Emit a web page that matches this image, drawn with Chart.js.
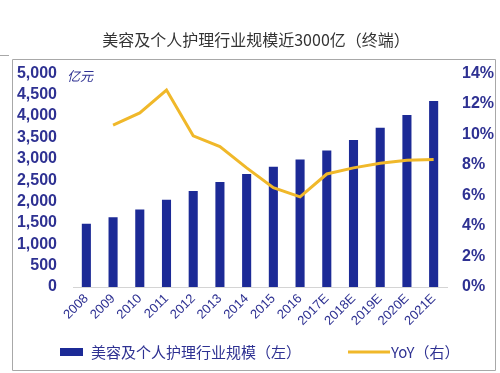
<!DOCTYPE html>
<html lang="zh">
<head>
<meta charset="UTF-8">
<title>美容及个人护理行业规模</title>
<script src="https://cdn.jsdelivr.net/npm/chart.js"></script>
<style>
  html, body { margin: 0; padding: 0; background: #fff; }
  #wrap { width: 500px; height: 373px; }
</style>
</head>
<body>
<div id="wrap"><canvas id="chart"></canvas></div>
<script>
  // données
  const years = ['2008', '2009', '2010', '2011', '2012', '2013', '2014', '2015', '2016',
                 '2017E', '2018E', '2019E', '2020E', '2021E'];
  const marketSize = [1480, 1630, 1810, 2040, 2245, 2455, 2645, 2810, 2980, 3195, 3440, 3725, 4020, 4350];
  const yoy = [null, 10.6, 11.4, 12.9, 9.9, 9.2, 7.8, 6.5, 5.9, 7.4, 7.8, 8.1, 8.3, 8.35];
  const leftTicks = [0, 500, 1000, 1500, 2000, 2500, 3000, 3500, 4000, 4500, 5000];
  const rightTicks = [0, 2, 4, 6, 8, 10, 12, 14];

  const navy = '#2e3192';
  const barColor = '#1c2a96';
  const lineColor = '#f0b82a';
  const cjk = '"Noto Sans CJK SC", sans-serif';
  const latin = '"Liberation Sans", Arial, sans-serif';

  // cadre, unité et légende dessinés à la main
  const decor = {
    id: 'decor',
    afterDraw(chart) {
      const ctx = chart.ctx;
      const area = chart.chartArea;
      ctx.save();
      ctx.strokeStyle = '#a8a8a8';
      ctx.lineWidth = 1;
      ctx.beginPath();
      ctx.moveTo(12.5, 59.5);
      ctx.lineTo(495.5, 59.5);
      ctx.lineTo(495.5, 370.5);
      ctx.lineTo(12.5, 370.5);
      ctx.closePath();
      ctx.moveTo(0, 55.5);
      ctx.lineTo(9, 55.5);
      ctx.stroke();

      ctx.fillStyle = navy;
      ctx.font = 'italic 13px ' + cjk;
      ctx.textBaseline = 'middle';
      ctx.fillText('亿元', area.left - 6, 76);

      // légende
      const ds = chart.data.datasets;
      const y = 352;
      ctx.fillStyle = barColor;
      ctx.fillRect(60, y - 4, 23, 8);
      ctx.fillStyle = navy;
      ctx.font = '15px ' + cjk;
      ctx.fillText(ds[0].label, 91, y);
      ctx.strokeStyle = lineColor;
      ctx.lineWidth = 3;
      ctx.beginPath();
      ctx.moveTo(348, y);
      ctx.lineTo(390, y);
      ctx.stroke();
      ctx.fillStyle = navy;
      ctx.fillText(ds[1].label, 391, y);
      ctx.restore();
    }
  };

  new Chart(document.getElementById('chart'), {
    data: {
      labels: years,
      datasets: [
        {
          type: 'bar',
          label: '美容及个人护理行业规模（左）',
          data: marketSize,
          backgroundColor: barColor,
          barPercentage: 0.34,
          categoryPercentage: 1,
          yAxisID: 'y',
          order: 2
        },
        {
          type: 'line',
          label: 'YoY（右）',
          data: yoy,
          borderColor: lineColor,
          borderWidth: 3,
          pointRadius: 0,
          tension: 0,
          yAxisID: 'y1',
          order: 1
        }
      ]
    },
    options: {
      responsive: true,
      maintainAspectRatio: false,
      animation: false,
      layout: { padding: { left: 12, right: 0, top: 0, bottom: 36 } },
      plugins: {
        legend: { display: false },
        tooltip: { enabled: false },
        title: {
          display: true,
          text: '美容及个人护理行业规模近3000亿（终端）',
          color: '#333',
          font: { size: 16, weight: 'normal', family: cjk, lineHeight: 1.2 },
          padding: { top: 30, bottom: 24 }
        }
      },
      scales: {
        x: {
          grid: { display: false, drawTicks: false },
          border: { display: true, color: '#d4d4d4' },
          ticks: { color: navy, font: { size: 13, family: latin }, maxRotation: 45, minRotation: 45, padding: 4, autoSkip: false },
          afterFit: s => { s.height = 50; }
        },
        y: {
          position: 'left',
          min: 0, max: 5000,
          grid: { display: false, drawTicks: false },
          border: { display: false },
          afterBuildTicks: s => { s.ticks = leftTicks.map(v => ({ value: v })); },
          ticks: {
            color: navy, font: { size: 16, family: latin, weight: 'bold' }, padding: 16, autoSkip: false,
            callback: v => v.toLocaleString('en-US')
          },
          afterFit: s => { s.width = 61; }
        },
        y1: {
          position: 'right',
          min: 0, max: 14,
          grid: { display: false, drawTicks: false },
          border: { display: false },
          afterBuildTicks: s => { s.ticks = rightTicks.map(v => ({ value: v })); },
          ticks: { color: navy, font: { size: 16, family: latin, weight: 'bold' }, padding: 15, autoSkip: false, callback: v => v + '%' },
          afterFit: s => { s.width = 53; }
        }
      }
    },
    plugins: [decor]
  });
</script>
</body>
</html>
